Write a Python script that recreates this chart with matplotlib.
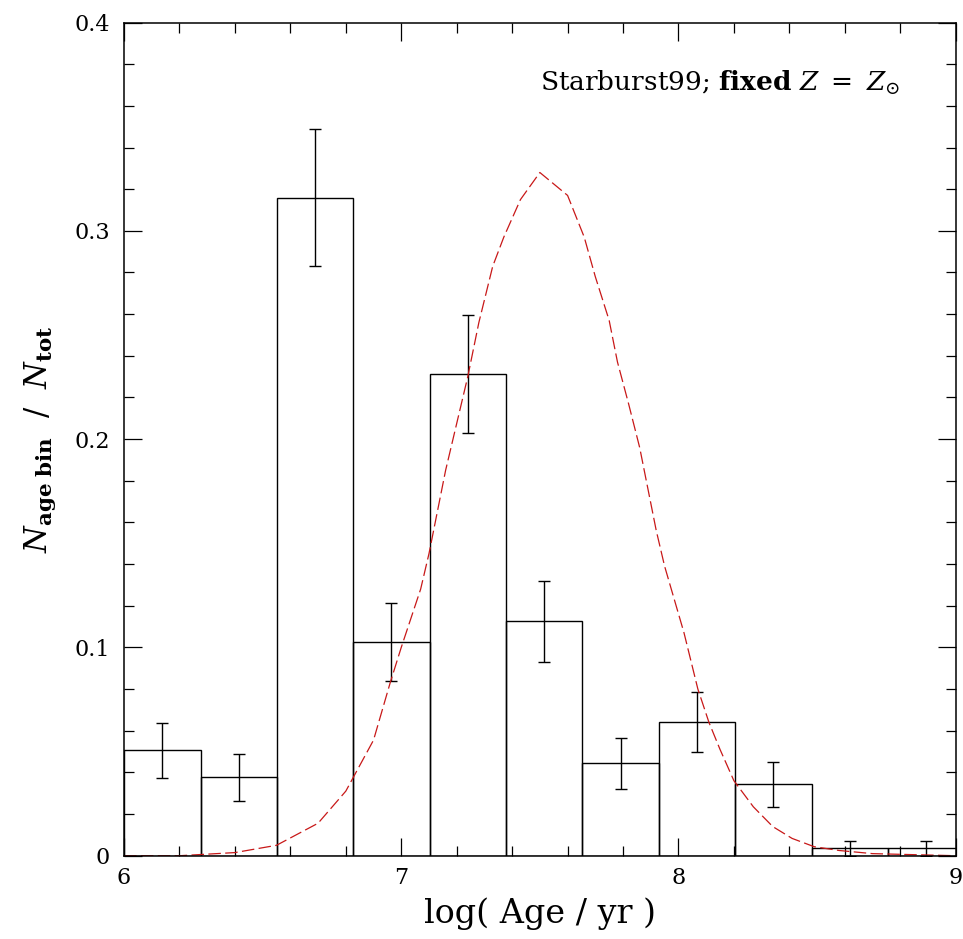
"""Age distribution histogram vs Starburst99 model curve (fixed solar Z)."""
import matplotlib
matplotlib.use("Agg")
import matplotlib.pyplot as plt
from matplotlib.ticker import MultipleLocator

# histogram bins in log(age/yr), fraction per bin and its error
age_edges = [6.0, 6.276, 6.551, 6.827, 7.102, 7.378, 7.653, 7.929,
             8.204, 8.480, 8.755, 9.031]
frac = [0.0507, 0.0376, 0.3159, 0.1024, 0.2313, 0.1125, 0.0443, 0.0642,
        0.0344, 0.0035, 0.0035]
frac_err = [0.0132, 0.0112, 0.0330, 0.0187, 0.0284, 0.0195, 0.0124, 0.0146,
            0.0108, 0.0035, 0.0035]

# model curve
model_x = [6.0, 6.2, 6.4, 6.55, 6.70, 6.80, 6.90, 6.96, 7.00, 7.07, 7.10,
           7.16, 7.24, 7.28, 7.33, 7.37, 7.43, 7.50, 7.60, 7.66, 7.70, 7.75,
           7.78, 7.82, 7.86, 7.89, 7.92, 7.95, 8.02, 8.07, 8.11, 8.15, 8.20,
           8.27, 8.34, 8.41, 8.49, 8.58, 8.70, 9.0]
model_y = [0.0, 0.0, 0.0015, 0.005, 0.0156, 0.031, 0.0555, 0.083, 0.100,
           0.128, 0.145, 0.185, 0.230, 0.256, 0.283, 0.297, 0.315, 0.328,
           0.317, 0.297, 0.278, 0.257, 0.237, 0.217, 0.196, 0.176, 0.156,
           0.139, 0.107, 0.080, 0.064, 0.051, 0.036, 0.0235, 0.014, 0.0083,
           0.0043, 0.0025, 0.001, 0.0]

plt.rcParams["font.family"] = ["DejaVu Serif"]
plt.rcParams["mathtext.fontset"] = "dejavuserif"

fig = plt.figure(figsize=(9.63, 9.39), dpi=100)
ax = fig.add_axes([0.1288, 0.0887, 0.8636, 0.8873])

lefts = age_edges[:-1]
widths = [b - a for a, b in zip(age_edges[:-1], age_edges[1:])]
centers = [a + w / 2 for a, w in zip(lefts, widths)]

ax.bar(lefts, frac, width=widths, align="edge", fill=False,
       edgecolor="black", linewidth=1.0)
ax.errorbar(centers, frac, yerr=frac_err, fmt="none", ecolor="black",
            elinewidth=1.0, capsize=4.3, capthick=1.0)
ax.plot(model_x, model_y, color="#c81818", linewidth=0.9,
        linestyle=(0, (10, 3.5)))

ax.set_xlim(6, 9)
ax.set_ylim(0, 0.4)
ax.xaxis.set_major_locator(MultipleLocator(1))
ax.xaxis.set_minor_locator(MultipleLocator(0.2))
ax.yaxis.set_major_locator(MultipleLocator(0.1))
ax.yaxis.set_minor_locator(MultipleLocator(0.02))
ax.yaxis.set_major_formatter(plt.FuncFormatter(
    lambda v, p: "0" if v == 0 else f"{v:.1f}"))

ax.tick_params(which="both", direction="in", top=True, right=True,
               width=0.9, labelsize=16)
ax.tick_params(which="major", length=13)
ax.tick_params(which="minor", length=7)
ax.tick_params(axis="x", pad=8)
ax.tick_params(axis="y", pad=10)
for s in ax.spines.values():
    s.set_linewidth(1.1)

ax.set_xlabel("log( Age / yr )", fontsize=24, labelpad=6)
ax.set_ylabel(r"$N_{\mathbf{age\ bin}}\ \ /\ \ N_{\mathbf{tot}}$",
              fontsize=22, labelpad=12)

ax.text(8.80, 0.367, r"Starburst99; $\mathbf{fixed}$ $Z\ =\ Z_{\odot}$",
        ha="right", va="baseline", fontsize=19)

fig.savefig("out.png", dpi=100)
